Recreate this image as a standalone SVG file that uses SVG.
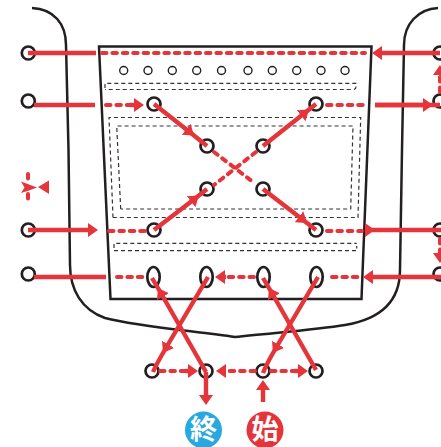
<svg xmlns="http://www.w3.org/2000/svg" width="441" height="447" viewBox="0 0 441 447">
<style>
.k{fill:none;stroke:#231f20;stroke-width:2.5}
.d{fill:none;stroke:#333;stroke-width:1.2;stroke-dasharray:4 3}
.e{fill:#fff;stroke:#231f20;stroke-width:2.7}
.h{fill:#fff;stroke:#231f20;stroke-width:1.4}
.s{fill:none;stroke:#e5343a;stroke-width:4.400}
.a{fill:none;stroke:#e5343a;stroke-width:4;stroke-linecap:round;stroke-dasharray:4.500 5.900}
.m{fill:none;stroke:#e5343a;stroke-width:4.400;marker-end:url(#ar)}
.x{fill:none;stroke:#e5343a;stroke-width:4.400;marker-mid:url(#ar)}
.t{font-family:"Noto Sans CJK JP",sans-serif;font-size:27px;font-weight:700;fill:#fff;text-anchor:middle}
</style>
<defs>
<marker id="ar" markerUnits="userSpaceOnUse" viewBox="0 0 10 14" markerWidth="10" markerHeight="14" refX="6" refY="7" orient="auto"><path d="M0,0L10,7L0,14z" fill="#e5343a"/></marker>
</defs>
<rect width="441" height="447" fill="#fff"/>
<g id="body">
<path class="k" d="M32,8C54,9 66,24 66,45L68.500,150L70,265C70,290 82,310 105,318C140,327 195,331 235,337C270,333 315,330 345,325C375,320 400,305 400,270L402,150L404,45C404,24 418,9 438,8"/>
</g>
<g id="pocket">
<path class="k" d="M99,46.500H371.500L361.500,299H110.500Z"/>
<path class="d" d="M105,88V83.300H356V87Q356,89.500 353,89.500H105"/>
<path class="d" d="M113,217.500L109,117.500H360.700L358,217.500H113"/>
<path class="d" d="M120.700,209L116.700,126H353L350.700,209H120.700"/>
<path class="d" d="M114,248V243.300H356.700M114,250.700H356.700V246"/>
</g>
<g id="holes">
<circle class="h" cx="123.700" cy="70.500" r="4"/><circle class="h" cx="148" cy="70.500" r="4"/><circle class="h" cx="172.300" cy="70.500" r="4"/><circle class="h" cx="196.700" cy="70.500" r="4"/><circle class="h" cx="221.500" cy="70.500" r="4"/><circle class="h" cx="248" cy="70.500" r="4"/><circle class="h" cx="272.300" cy="70.500" r="4"/><circle class="h" cx="296.700" cy="70.500" r="4"/><circle class="h" cx="321" cy="70.500" r="4"/><circle class="h" cx="345" cy="70.500" r="4"/>
</g>
<g id="eyelets">
<circle class="e" cx="28.300" cy="53" r="6.500"/><circle class="e" cx="28.300" cy="101" r="6.500"/><circle class="e" cx="28.300" cy="230" r="6.500"/><circle class="e" cx="28.300" cy="274" r="6.500"/>
<circle class="e" cx="440" cy="53" r="6.500"/><circle class="e" cx="440" cy="101" r="6.500"/><circle class="e" cx="440" cy="230" r="6.500"/><circle class="e" cx="440" cy="274" r="6.500"/>
<circle class="e" cx="154" cy="104" r="6.500"/><circle class="e" cx="207" cy="146" r="6.500"/><circle class="e" cx="263" cy="146" r="6.500"/><circle class="e" cx="316" cy="104" r="6.500"/>
<circle class="e" cx="207" cy="189" r="6.500"/><circle class="e" cx="263" cy="189" r="6.500"/><circle class="e" cx="154" cy="230" r="6.500"/><circle class="e" cx="316" cy="230" r="6.500"/>
<ellipse class="e" cx="153.500" cy="277" rx="6.200" ry="10"/><ellipse class="e" cx="206.500" cy="277" rx="6.200" ry="10"/><ellipse class="e" cx="263.500" cy="277" rx="6.200" ry="10"/><ellipse class="e" cx="316.500" cy="277" rx="6.200" ry="10"/>
<circle class="e" cx="152" cy="371" r="6.500"/><circle class="e" cx="206" cy="371" r="6.500"/><circle class="e" cx="263" cy="371" r="6.500"/><circle class="e" cx="316" cy="371" r="6.500"/>
</g>
<g id="connectors">
<path class="s" d="M28,53H96"/>
<path class="a" d="M102,53H365"/>
<path class="m" d="M440,53H376"/>
<path class="s" d="M34,105H95"/>
<path class="a" d="M106,105H130"/>
<path class="m" d="M130,105H140"/>
<path class="a" d="M327,105H365"/>
<path class="s" d="M375,105H440"/>
<path class="m" d="M375,105H429"/>
<path class="m" d="M28,230H94"/>
<path class="a" d="M109,231H145"/>
<path class="a" d="M327,231H362"/>
<path class="s" d="M372,230H441"/>
<path class="m" d="M367,230H371"/>
<path class="s" d="M34,277H106"/>
<path class="a" d="M117,277H145"/>
<path class="a" d="M332,277H360"/>
<path class="m" d="M441,277H367"/>
<path class="a" d="M254,277H226"/>
<path class="m" d="M226,277H219"/>
<path class="x" d="M154,104L190.900,133L207,146"/>
<path class="x" d="M263,146L305.900,112L316,104"/>
<path class="x" d="M154,230L195.800,198L207,189"/>
<path class="x" d="M263,189L303.800,220.500L316,230"/>
<path class="a" d="M214,152L253,182"/>
<path class="a" d="M256,152L214,185"/>
<path class="x" d="M206,372L160,291.500L152,278"/>
<path class="x" d="M208,277L165,349.500Q156,365 153,372"/>
<path class="x" d="M316,370L271,291.500L263,278"/>
<path class="x" d="M318,277L275,349.500Q266,365 263,373"/>
<path class="a" d="M160,371H185"/>
<path class="m" d="M185,371H194"/>
<path class="a" d="M255,371H226"/>
<path class="m" d="M226,371H220"/>
<path class="a" d="M271,371H294"/>
<path class="m" d="M294,371H304"/>
<path class="m" d="M206,372V401"/>
<path class="m" d="M263,402V384"/>
<path class="a" d="M440,92V75"/>
<path class="m" d="M440,75V69"/>
<path class="a" d="M440,239V252"/>
<path class="m" d="M440,252V259"/>
<path class="a" d="M28,174V181M28,194V201"/>
<path d="M21,181.500L29,184.500L37,187.500L29,190.500L21,193L24.500,187.500Z" fill="#e5343a"/>
<path d="M38,187L49,180.500V194Z" fill="#e5343a"/>
</g>
<g id="end">
<circle cx="203.500" cy="430" r="18.500" fill="#29a7df"/>
<text class="t" x="203.500" y="439">終</text>
</g>
<g id="start">
<circle cx="265" cy="430" r="18.500" fill="#e5343a"/>
<text class="t" x="265" y="439">始</text>
</g>
</svg>
